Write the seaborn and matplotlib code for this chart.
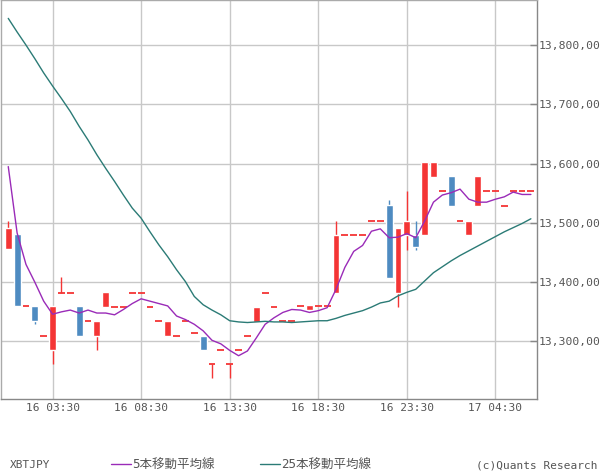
import numpy as np
import pandas as pd
import matplotlib
matplotlib.use("Agg")
import matplotlib.pyplot as plt
import seaborn as sns

# 30-minute XBTJPY candles, 16 01:00 -> 17 06:30
opens = [13456, 13481, 13360, 13360, 13310, 13285, 13382, 13382, 13360, 13335,
         13309, 13358, 13359, 13359, 13382, 13382, 13359, 13335, 13309, 13310,
         13335, 13314, 13310, 13262, 13286, 13262, 13286, 13310, 13333, 13382,
         13359, 13335, 13335, 13360, 13353, 13360, 13360, 13382, 13480, 13480,
         13480, 13504, 13504, 13530, 13381, 13480, 13480, 13480, 13577, 13553,
         13579, 13504, 13480, 13529, 13553, 13553, 13529, 13553, 13553, 13553]
highs = [13504, 13481, 13360, 13360, 13310, 13360, 13408, 13382, 13360, 13335,
         13335, 13383, 13359, 13359, 13382, 13382, 13359, 13335, 13335, 13310,
         13335, 13314, 13310, 13262, 13286, 13262, 13286, 13310, 13359, 13382,
         13359, 13335, 13335, 13360, 13361, 13360, 13360, 13504, 13480, 13480,
         13480, 13504, 13504, 13538, 13491, 13553, 13504, 13602, 13602, 13553,
         13579, 13504, 13504, 13579, 13553, 13553, 13529, 13553, 13553, 13553]
lows = [13456, 13360, 13360, 13330, 13310, 13262, 13382, 13382, 13309, 13335,
        13286, 13358, 13359, 13359, 13382, 13382, 13359, 13335, 13309, 13310,
        13335, 13314, 13285, 13238, 13286, 13238, 13286, 13310, 13333, 13382,
        13359, 13335, 13335, 13360, 13353, 13360, 13360, 13382, 13480, 13480,
        13480, 13504, 13504, 13407, 13358, 13455, 13455, 13480, 13577, 13553,
        13529, 13504, 13480, 13529, 13553, 13553, 13529, 13553, 13553, 13553]
closes = [13492, 13360, 13360, 13334, 13310, 13360, 13382, 13382, 13309, 13335,
          13335, 13383, 13359, 13359, 13382, 13382, 13359, 13335, 13335, 13310,
          13335, 13314, 13285, 13262, 13286, 13262, 13286, 13310, 13359, 13382,
          13359, 13335, 13335, 13360, 13361, 13360, 13360, 13480, 13480, 13480,
          13480, 13504, 13504, 13407, 13491, 13504, 13459, 13602, 13602, 13553,
          13529, 13504, 13504, 13579, 13553, 13553, 13529, 13553, 13553, 13553]
ma5 = [13595, 13483, 13430, 13400, 13368, 13346, 13350, 13353, 13348, 13353,
       13348, 13348, 13345, 13354, 13364, 13372, 13368, 13364, 13360, 13343,
       13337, 13329, 13318, 13302, 13296, 13285, 13276, 13284, 13306, 13329,
       13340, 13349, 13354, 13353, 13349, 13352, 13357, 13388, 13425, 13452,
       13462, 13486, 13490, 13475, 13476, 13482, 13475, 13503, 13535, 13547,
       13551, 13557, 13540, 13535, 13535, 13540, 13544, 13552, 13548, 13548]
ma25 = [13845, 13822, 13800, 13777, 13753, 13731, 13710, 13688, 13663, 13640,
        13615, 13592, 13570, 13547, 13525, 13508, 13485, 13463, 13443, 13421,
        13401, 13376, 13362, 13353, 13345, 13335, 13333, 13332, 13333, 13334,
        13333, 13333, 13332, 13333, 13334, 13335, 13335, 13339, 13344, 13348,
        13352, 13358, 13365, 13368, 13377, 13383, 13388, 13402, 13416, 13426,
        13436, 13445, 13453, 13461, 13469, 13477, 13485, 13492, 13499, 13507]

x_labels = ["16 03:30", "16 08:30", "16 13:30", "16 18:30", "16 23:30", "17 04:30"]
y_values = [13300, 13400, 13500, 13600, 13700, 13800]
y_labels = ["13,300,00", "13,400,00", "13,500,00", "13,600,00", "13,700,00", "13,800,00"]

times = pd.date_range("2024-01-16 01:00", periods=len(opens), freq="30min")
df = pd.DataFrame({"t": times.strftime("%d %H:%M"), "open": opens, "high": highs,
                   "low": lows, "close": closes, "ma5": ma5, "ma25": ma25})
df["x"] = np.arange(len(df))

RED = "#f43535"
BLUE = "#4e8bc1"
PURPLE = "#9a2bb8"
TEAL = "#2b7b76"
TXT = "#555555"

sns.set_style("white")
plt.rcParams["font.family"] = ["DejaVu Sans Mono", "Noto Sans CJK JP"]

fig = plt.figure(figsize=(6, 4.75), dpi=100)
ax = fig.add_axes([1 / 600, 1 - 399 / 475, 536 / 600, 399 / 475])

up = df[df.close > df.open]
down = df[df.close < df.open]
flat = df[df.close == df.open]

ax.vlines(up.x, up.low, up.high, color=RED, lw=1, zorder=3)
ax.vlines(down.x, down.low, down.high, color=BLUE, lw=1, zorder=3)
ax.vlines(flat.x, flat.low, flat.high, color=RED, lw=1, zorder=3)
ax.bar(up.x, up.close - up.open, bottom=up.open, width=0.78, color=RED, zorder=4)
ax.bar(down.x, down.open - down.close, bottom=down.close, width=0.78, color=BLUE, zorder=4)
ax.hlines(flat.close, flat.x - 0.39, flat.x + 0.39, color=RED, lw=1.3, zorder=4)

sns.lineplot(data=df, x="x", y="ma5", ax=ax, color=PURPLE, lw=1, label="5本移動平均線", zorder=5)
sns.lineplot(data=df, x="x", y="ma25", ax=ax, color=TEAL, lw=1, label="25本移動平均線", zorder=5)
handles, labels = ax.get_legend_handles_labels()
ax.get_legend().remove()

ax.set_xlim(-0.82, 59.69)
ax.set_ylim(13203, 13876)

xticks = [int(df.index[df.t == lab][0]) for lab in x_labels]
ax.set_xticks(xticks)
ax.set_xticklabels(x_labels)
ax.yaxis.tick_right()
ax.set_yticks(y_values)
ax.set_yticklabels(y_labels)
ax.set_xlabel("")
ax.set_ylabel("")

ax.grid(True, color="#c8c8c8", lw=1)
ax.set_axisbelow(True)
ax.tick_params(axis="x", length=0, pad=3, labelsize=8, labelcolor=TXT)
ax.tick_params(axis="y", direction="in", length=5, width=1, color="#888888",
               pad=1, labelsize=8.2, labelcolor=TXT)
for side in ["left", "top"]:
    ax.spines[side].set_color("#aaaaaa")
for side in ["right", "bottom"]:
    ax.spines[side].set_color("#888888")
for s in ax.spines.values():
    s.set_linewidth(1)

fig.text(10 / 600, 1 - 465 / 475, "XBTJPY", fontsize=8, color=TXT, va="center")
fig.legend(handles, labels, loc="center left", bbox_to_anchor=(111 / 600, 1 - 465 / 475),
           ncol=2, frameon=False, fontsize=9, handlelength=1.6, handletextpad=0.1,
           columnspacing=3.6, borderpad=0, borderaxespad=0, labelcolor=TXT)
fig.text(598 / 600, 1 - 465 / 475, "(c)Quants Research", fontsize=8, color=TXT,
         ha="right", va="center")

fig.savefig("out.png", dpi=100, facecolor="white")
